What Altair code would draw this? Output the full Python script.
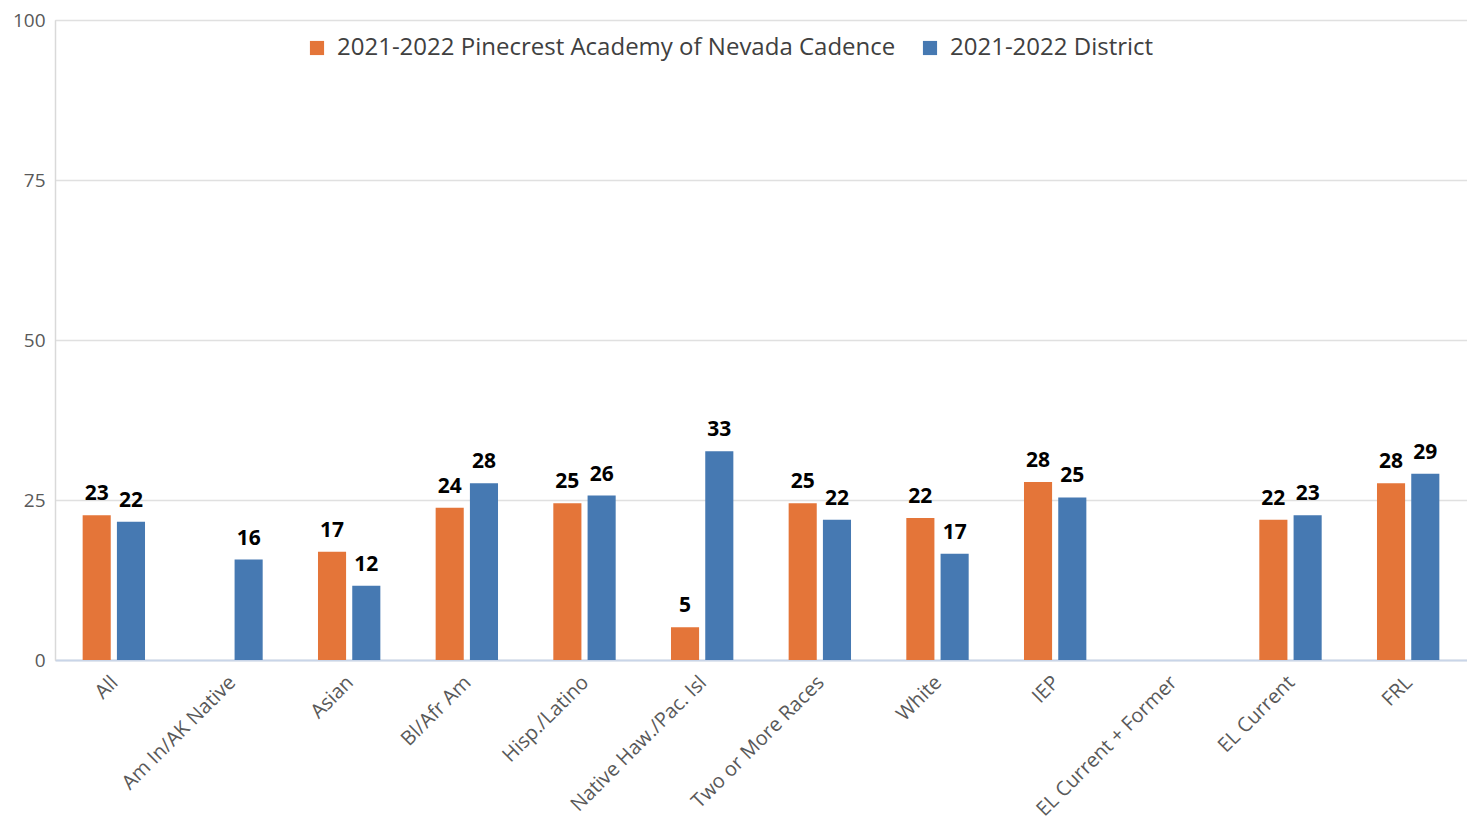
import altair as alt
import pandas as pd

categories = ["All", "Am In/AK Native", "Asian", "Bl/Afr Am", "Hisp./Latino",
              "Native Haw./Pac. Isl", "Two or More Races", "White", "IEP",
              "EL Current + Former", "EL Current", "FRL"]
school = [22.6, None, 16.9, 23.8, 24.5, 5.1, 24.5, 22.2, 27.8, None, 21.9, 27.6]
district = [21.6, 15.7, 11.6, 27.6, 25.7, 32.6, 21.9, 16.6, 25.4, None, 22.6, 29.1]
series = ["2021-2022 Pinecrest Academy of Nevada Cadence", "2021-2022 District"]
colors = ["#E47539", "#4679B2"]

rows = []
for c, s, d in zip(categories, school, district):
    if s is not None:
        rows.append({"cat": c, "series": series[0], "value": s})
    if d is not None:
        rows.append({"cat": c, "series": series[1], "value": d})
df = pd.DataFrame(rows)

font = "Open Sans"

x = alt.X("cat:N", sort=categories, scale=alt.Scale(domain=categories, paddingInner=0.47, paddingOuter=0.235),
          axis=alt.Axis(title=None, labelAngle=-45, labelAlign="right", labelBaseline="top",
                        labelFontSize=20, labelColor="#595959", labelFont=font, labelPadding=12,
                        ticks=False, domainColor="#C9D5E8", domainWidth=2, labelLimit=300,
                        labelOffset=-6))
xo = alt.XOffset("series:N", sort=series, scale=alt.Scale(domain=series, paddingInner=0.18))
y = alt.Y("value:Q", scale=alt.Scale(domain=[0, 100], nice=False),
          axis=alt.Axis(title=None, values=[0, 25, 50, 75, 100], ticks=False, labelPadding=10,
                        labelFontSize=19, labelColor="#595959", labelFont=font,
                        gridColor="#E0E0E0", gridWidth=1.5, domainColor="#D9D9D9", domainWidth=1.5))
color = alt.Color("series:N", sort=series, scale=alt.Scale(domain=series, range=colors),
                  legend=alt.Legend(title=None, orient="none", legendX=250, legendY=16,
                                    direction="horizontal", symbolType="square", symbolSize=200,
                                    symbolStrokeWidth=0, labelFontSize=24, labelFont=font,
                                    labelColor="#404040", columnPadding=22, labelLimit=800,
                                    labelOffset=8))

bars = alt.Chart(df).mark_bar().encode(x=x, xOffset=xo, y=y, color=color)
labels = alt.Chart(df).mark_text(baseline="bottom", dy=-11, fontSize=21, fontWeight="bold",
                                 font=font, color="black").encode(
    x=alt.X("cat:N", sort=categories), xOffset=alt.XOffset("series:N", sort=series), y="value:Q",
    text=alt.Text("value:Q", format=".0f"))

chart = (bars + labels).properties(
    width=1412, height=640,
    autosize=alt.AutoSizeParams(type="none"),
    padding={"left": 47, "top": 12, "right": 0, "bottom": 170},
).configure_view(stroke=None).configure(background="white")

chart.save("out.html", embed_options={"renderer": "svg", "actions": False})
